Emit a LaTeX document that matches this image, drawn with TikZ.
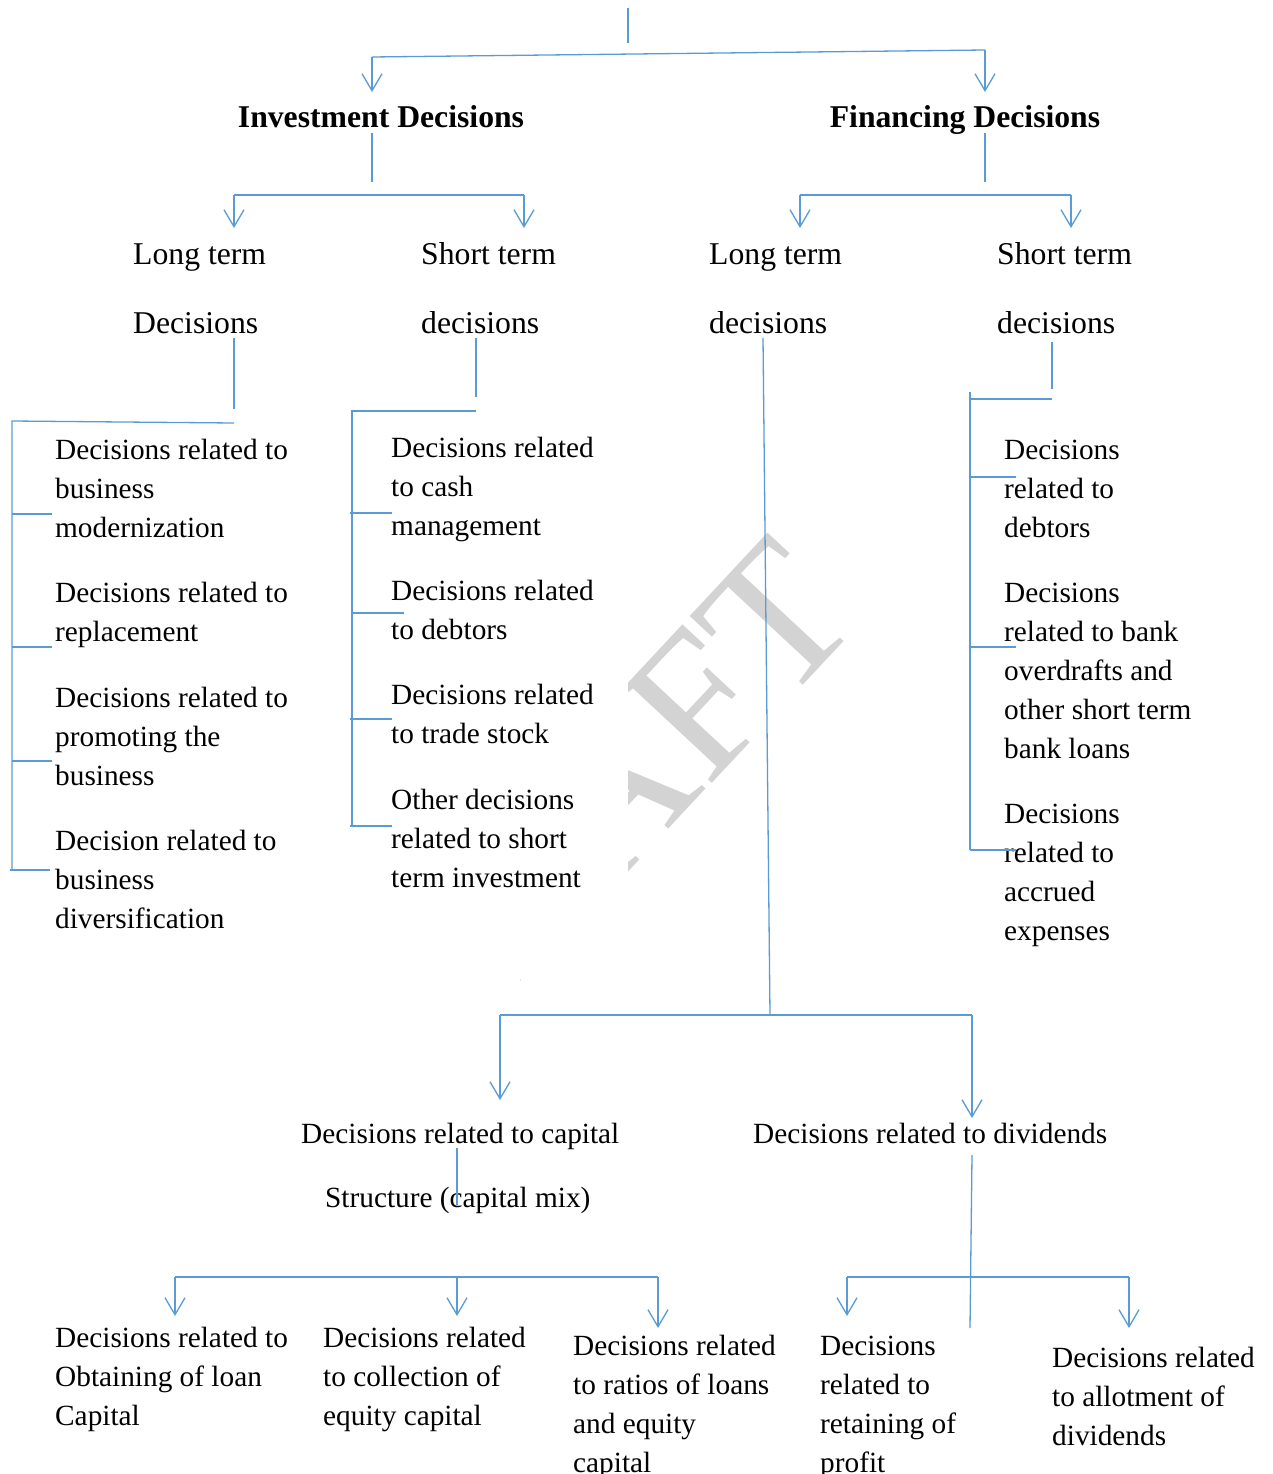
\documentclass[tikz,border=0pt]{standalone}
\usepackage{fontspec}
\setmainfont{Liberation Serif}
\usetikzlibrary{arrows.meta}
\definecolor{link}{RGB}{91,155,213}
\definecolor{wmark}{RGB}{211,211,211}

\begin{document}
\begin{tikzpicture}[x=1pt,y=-1pt,
  wire/.style={draw=link,line width=1.3pt},
  down/.style={wire,-{Straight Barb[length=17pt,width=20pt]}},
  leaf/.style={anchor=north west,inner sep=0pt,align=left,
    font=\fontsize{29.3}{39}\selectfont},
  branch/.style={anchor=north west,inner sep=0pt,align=left,
    font=\fontsize{31.7}{69}\selectfont},
  head/.style={anchor=base,inner sep=0pt,
    font=\fontsize{31.7}{38}\selectfont\bfseries},
]
\useasboundingbox[fill=white] (0,0) rectangle (1273,1474);

% faint watermark, partly hidden behind the text columns
\begin{scope}
  \clip (628,0) rectangle (1273,1474) (495,968) rectangle (520,994);
  \node[rotate=47,inner sep=0pt,text=wmark,
        font=\fontsize{198}{198}\selectfont] (wm) at (596,812) {DRAFT};
\end{scope}

% ---------- level 1 ----------
\node[head] (inv) at (381,128) {Investment Decisions};
\node[head] (fin) at (965,128) {Financing Decisions};

\coordinate (root) at (628,8);
\coordinate (rootE) at (628,43);
\coordinate (busL) at (372,57);
\coordinate (busR) at (985,50);
\draw[wire] (root) -- (rootE);
\draw[wire] (busL) -- (busR);
\draw[down] (busL) -- (372,92);
\draw[down] (busR) -- (985,92);

% ---------- level 2 ----------
\node[branch] (iLong)  at (133,237) {\rule{0pt}{27pt}Long term\\Decisions};
\node[branch] (iShort) at (421,237) {\rule{0pt}{27pt}Short term\\decisions};
\node[branch] (fLong)  at (709,237) {\rule{0pt}{27pt}Long term\\decisions};
\node[branch] (fShort) at (997,237) {\rule{0pt}{27pt}Short term\\decisions};

\draw[wire] (372,133) -- (372,182);
\draw[wire] (234,195) -- (524,195);
\draw[down] (234,195) -- (234,228);
\draw[down] (524,195) -- (524,228);

\draw[wire] (985,133) -- (985,182);
\draw[wire] (800,195) -- (1071,195);
\draw[down] (800,195) -- (800,228);
\draw[down] (1071,195) -- (1071,228);

% ---------- long term investment ----------
\node[leaf] (l1) at (55,434) {\rule{0pt}{25pt}Decisions related to\\business\\modernization};
\node[leaf] (l2) at (55,577) {\rule{0pt}{25pt}Decisions related to\\replacement};
\node[leaf] (l3) at (55,682) {\rule{0pt}{25pt}Decisions related to\\promoting the\\business};
\node[leaf] (l4) at (55,825) {\rule{0pt}{25pt}Decision related to\\business\\diversification};

\draw[wire] (234,338) -- (234,409);
\draw[wire] (234,423) -- (12,421) -- (12,870);
\draw[wire] (12,514) -- (52,514);
\draw[wire] (12,647) -- (52,647);
\draw[wire] (12,761) -- (52,761);
\draw[wire] (10,870) -- (50,870);

% ---------- short term investment ----------
\node[leaf] (s1) at (391,432) {\rule{0pt}{25pt}Decisions related\\to cash\\management};
\node[leaf] (s2) at (391,575) {\rule{0pt}{25pt}Decisions related\\to debtors};
\node[leaf] (s3) at (391,679) {\rule{0pt}{25pt}Decisions related\\to trade stock};
\node[leaf] (s4) at (391,784) {\rule{0pt}{25pt}Other decisions\\related to short\\term investment};

\draw[wire] (476,338) -- (476,397);
\draw[wire] (476,411) -- (352,411) -- (352,826);
\draw[wire] (350,513) -- (392,513);
\draw[wire] (352,613) -- (404,613);
\draw[wire] (350,719) -- (392,719);
\draw[wire] (350,826) -- (392,826);

% ---------- short term financing ----------
\node[leaf] (f1) at (1004,434) {\rule{0pt}{25pt}Decisions\\related to\\debtors};
\node[leaf] (f2) at (1004,577) {\rule{0pt}{25pt}Decisions\\related to bank\\overdrafts and\\other short term\\bank loans};
\node[leaf] (f3) at (1004,798) {\rule{0pt}{25pt}Decisions\\related to\\accrued\\expenses};

\draw[wire] (1052,342) -- (1052,389);
\draw[wire] (1052,399) -- (970,399);
\draw[wire] (970,392) -- (970,850);
\draw[wire] (970,477) -- (1016,477);
\draw[wire] (970,647) -- (1016,647);
\draw[wire] (970,850) -- (1016,850);

% ---------- long term financing ----------
\node[leaf] (cap1) at (301,1118) {\rule{0pt}{25pt}Decisions related to capital};
\node[leaf] (cap2) at (325,1182) {\rule{0pt}{25pt}Structure (capital mix)};
\node[leaf] (div)  at (753,1118) {\rule{0pt}{25pt}Decisions related to dividends};

\draw[wire] (763,338) -- (770,1015);
\draw[wire] (500,1015) -- (972,1015);
\draw[down] (500,1015) -- (500,1100);
\draw[down] (972,1015) -- (972,1118);

% capital structure branch
\node[leaf] (c1) at (55,1322)  {\rule{0pt}{25pt}Decisions related to\\Obtaining of loan\\Capital};
\node[leaf] (c2) at (323,1322) {\rule{0pt}{25pt}Decisions related\\to collection of\\equity capital};
\node[leaf] (c3) at (573,1330) {\rule{0pt}{25pt}Decisions related\\to ratios of loans\\and equity\\capital};

\draw[wire] (457,1148) -- (457,1205);
\draw[wire] (175,1277) -- (658,1277);
\draw[down] (175,1277) -- (175,1316);
\draw[down] (457,1277) -- (457,1316);
\draw[down] (658,1277) -- (658,1328);

% dividend branch
\node[leaf] (d1) at (820,1330)  {\rule{0pt}{25pt}Decisions\\related to\\retaining of\\profit};
\node[leaf] (d2) at (1052,1342) {\rule{0pt}{25pt}Decisions related\\to allotment of\\dividends};

\draw[wire] (972,1155) -- (970,1328);
\draw[wire] (847,1277) -- (1129,1277);
\draw[down] (847,1277) -- (847,1316);
\draw[down] (1129,1277) -- (1129,1328);
\end{tikzpicture}
\end{document}
